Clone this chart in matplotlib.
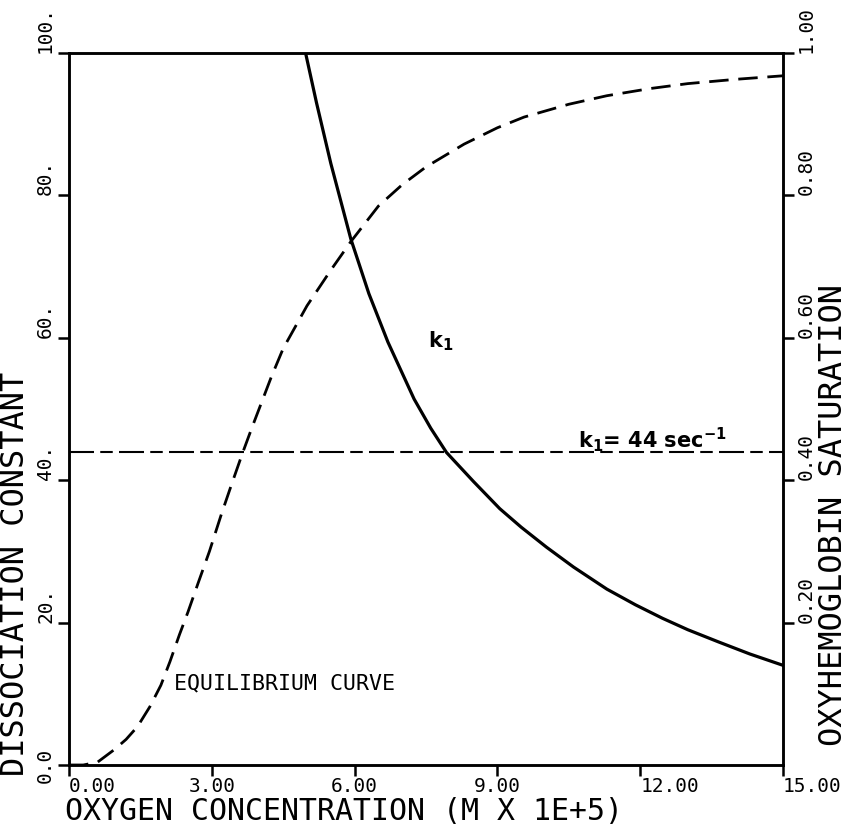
import numpy as np
import matplotlib
matplotlib.use("Agg")
import matplotlib.pyplot as plt

# values
conc_k1 = [4.97, 5.2, 5.5, 5.92, 6.3, 6.7, 7.25, 7.6, 7.93, 8.5, 9.05, 9.5,
           10.03, 10.6, 11.3, 11.9, 12.47, 13.0, 13.64, 14.3, 15.0]
k1 = [100.0, 93.0, 84.5, 73.9, 66.2, 59.4, 51.4, 47.3, 43.9, 39.8, 36.0, 33.4,
      30.6, 27.8, 24.7, 22.5, 20.6, 19.0, 17.3, 15.6, 14.0]

conc_sat = [0.0, 0.3, 0.6, 0.96, 1.2, 1.44, 1.7, 1.93, 2.12, 2.32, 2.5, 2.71,
            2.95, 3.2, 3.42, 3.64, 3.85, 4.05, 4.25, 4.5, 5.0, 5.5, 5.92, 6.5,
            7.0, 7.5, 8.3, 9.0, 9.56, 10.5, 11.3, 12.2, 13.0, 14.0, 15.0]
saturation = [0.0, 0.0, 0.004, 0.022, 0.036, 0.054, 0.082, 0.112, 0.145, 0.183,
              0.215, 0.255, 0.30, 0.352, 0.395, 0.437, 0.475, 0.51, 0.545, 0.585,
              0.645, 0.695, 0.735, 0.785, 0.815, 0.84, 0.872, 0.895, 0.91, 0.928,
              0.94, 0.95, 0.957, 0.963, 0.968]

k1_const = 44.0

x_ticks = [0, 3, 6, 9, 12, 15]
x_ticklabels = ["0.00", "3.00", "6.00", "9.00", "12.00", "15.00"]
left_ticks = [0, 20, 40, 60, 80, 100]
left_ticklabels = ["0.0", "20.", "40.", "60.", "80.", "100."]
right_ticks = [0.2, 0.4, 0.6, 0.8, 1.0]
right_ticklabels = ["0.20", "0.40", "0.60", "0.80", "1.00"]

plotter = "DejaVu Sans Mono"
W, H = 847, 827

fig = plt.figure(figsize=(8.47, 8.27), dpi=100)
ax = fig.add_axes([69 / W, 62 / H, 714 / W, 712 / H])
ax2 = ax.twinx()

ax.plot(conc_k1, k1, color="black", lw=2.3, solid_joinstyle="round")
ax.axhline(k1_const, color="black", lw=1.5, dashes=(12, 3, 6, 3))
ax2.plot(conc_sat, saturation, color="black", lw=2.0, dashes=(7, 3.5))

ax.set_xlim(0, 15)
ax.set_ylim(0, 100)
ax2.set_ylim(0, 1)

for a in (ax, ax2):
    for s in a.spines.values():
        s.set_linewidth(1.8)

ax.set_xticks(x_ticks)
ax.set_xticklabels(x_ticklabels, family=plotter, fontsize=14)
ax.set_yticks(left_ticks)
ax.set_yticklabels(left_ticklabels, family=plotter, fontsize=14,
                   rotation=90, va="bottom")
ax2.set_yticks(right_ticks)
ax2.set_yticklabels(right_ticklabels, family=plotter, fontsize=14,
                    rotation=90, va="bottom")
ax.tick_params(axis="x", direction="out", length=8, width=1.8, pad=1)
ax.tick_params(axis="y", direction="out", length=8, width=1.8, pad=2)
ax2.tick_params(axis="y", direction="out", length=8, width=1.8, pad=2)

xl = ax.get_xticklabels()
for i in (0, 4, 5):
    xl[i].set_ha("left")
ax.get_yticklabels()[0].set_va("center")

fig.text(65 / W, 1 - 811 / H, "OXYGEN CONCENTRATION (M X 1E+5)", family=plotter,
         fontsize=21.5, ha="left", va="center")
fig.text(16 / W, 1 - 776 / H, "DISSOCIATION CONSTANT", family=plotter,
         fontsize=23, rotation=90, ha="center", va="bottom")
fig.text(833 / W, 1 - 746 / H, "OXYHEMOGLOBIN SATURATION", family=plotter,
         fontsize=23, rotation=90, ha="center", va="bottom")

ax.text(2.2, 11.5, "EQUILIBRIUM CURVE", family=plotter, fontsize=15.5, va="center")
ax.text(7.55, 59.5, r"$\mathbf{k_1}$", fontsize=15, va="center")
ax.text(10.7, 43.7, r"$\mathbf{k_1}$= 44 sec$^{\mathbf{-1}}$", fontsize=15,
        fontweight="bold", va="bottom")

fig.savefig("out.png", dpi=100)
